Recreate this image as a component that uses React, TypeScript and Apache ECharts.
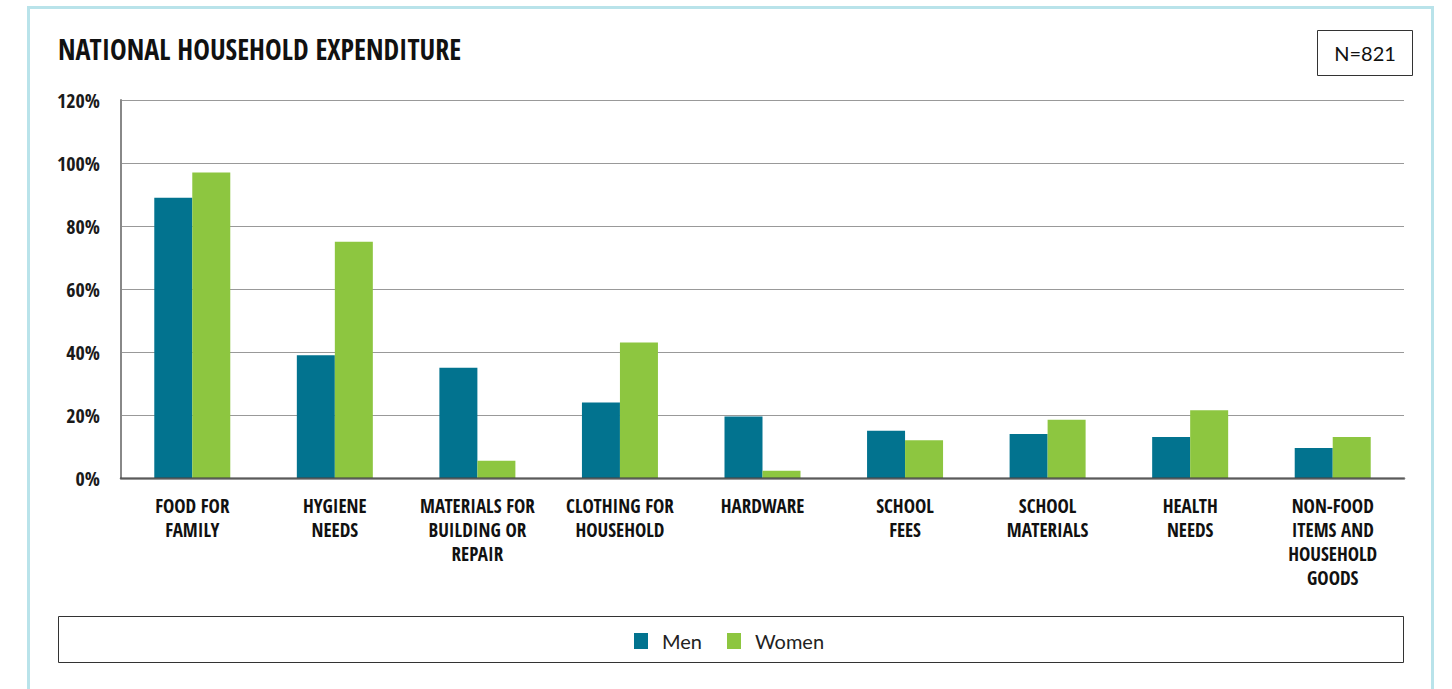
import React, { useEffect, useRef } from "react";
import * as echarts from "echarts";

const categories = [
  "FOOD FOR\nFAMILY",
  "HYGIENE\nNEEDS",
  "MATERIALS FOR\nBUILDING OR\nREPAIR",
  "CLOTHING FOR\nHOUSEHOLD",
  "HARDWARE",
  "SCHOOL\nFEES",
  "SCHOOL\nMATERIALS",
  "HEALTH\nNEEDS",
  "NON-FOOD\nITEMS AND\nHOUSEHOLD\nGOODS",
];
const menValues = [89, 39, 35, 24, 19.5, 15, 14, 13, 9.5];
const womenValues = [97, 75, 5.5, 43, 2.3, 12, 18.5, 21.5, 13];
const yTicks = [0, 20, 40, 60, 80, 100, 120];

const CONDENSED = "'Open Sans Condensed', 'Roboto Condensed', sans-serif";
const HUMANIST = "Lato, 'Open Sans', sans-serif";

export default function App() {
  const ref = useRef<HTMLDivElement>(null);
  useEffect(() => {
    if (!ref.current) return;
    const chart = echarts.init(ref.current, undefined, { renderer: "svg" });
    chart.setOption({
      animation: false,
      backgroundColor: "#ffffff",
      grid: { left: 121, right: 48, top: 100, bottom: 211, containLabel: false },
      xAxis: {
        type: "category",
        data: categories,
        z: 5,
        axisLine: { show: true, lineStyle: { color: "rgba(70,70,70,0.75)", width: 2.5 } },
        axisTick: { show: false },
        axisLabel: {
          interval: 0,
          margin: 16,
          color: "#111",
          fontFamily: CONDENSED,
          fontWeight: "bold",
          fontSize: 19,
          lineHeight: 24,
          align: "center",
        },
      },
      yAxis: {
        type: "value",
        min: yTicks[0],
        max: yTicks[yTicks.length - 1],
        interval: 20,
        axisLine: { show: true, lineStyle: { color: "#888", width: 2 } },
        axisTick: { show: false },
        splitLine: { show: true, lineStyle: { color: "#999", width: 1 } },
        axisLabel: {
          margin: 21,
          color: "#1a1a1a",
          fontFamily: CONDENSED,
          fontWeight: "bold",
          fontSize: 20,
          formatter: (v: number) => `${v}%`,
        },
      },
      legend: {
        left: 629,
        top: 626,
        itemWidth: 14,
        itemHeight: 16,
        itemGap: 25,
        icon: "rect",
        textStyle: { fontFamily: HUMANIST, fontSize: 20, color: "#222", padding: [0, 0, 0, 9] },
        data: ["Men", "Women"],
      },
      series: [
        {
          name: "Men",
          type: "bar",
          data: menValues,
          barWidth: 38,
          barGap: "0%",
          itemStyle: { color: "#02738f" },
        },
        {
          name: "Women",
          type: "bar",
          data: womenValues,
          barWidth: 38,
          itemStyle: { color: "#8dc640" },
        },
      ],
      graphic: [
        {
          type: "rect",
          shape: { x: 28.5, y: 7.5, width: 1404, height: 720 },
          style: { fill: "none", stroke: "#b9e3ea", lineWidth: 3 },
          silent: true,
          z: -1,
        },
        {
          type: "text",
          x: 58,
          y: 49,
          style: {
            text: "NATIONAL HOUSEHOLD EXPENDITURE",
            fontFamily: CONDENSED,
            fontWeight: "bold",
            fontSize: 28,
            fill: "#111",
            verticalAlign: "middle",
          },
        },
        {
          type: "rect",
          shape: { x: 1317.5, y: 30.5, width: 95, height: 45 },
          style: { fill: "#fff", stroke: "#333", lineWidth: 1 },
        },
        {
          type: "text",
          x: 1365,
          y: 53,
          style: {
            text: "N=821",
            fontFamily: HUMANIST,
            fontSize: 20,
            fill: "#111",
            align: "center",
            verticalAlign: "middle",
          },
        },
        {
          type: "rect",
          shape: { x: 58.5, y: 616.5, width: 1345, height: 46 },
          style: { fill: "none", stroke: "#333", lineWidth: 1 },
          z: -1,
        },
      ],
    });
    return () => chart.dispose();
  }, []);
  return (
    <div
      ref={ref}
      style={{ position: "fixed", left: 0, top: 0, width: 1452, height: 689 }}
    />
  );
}
